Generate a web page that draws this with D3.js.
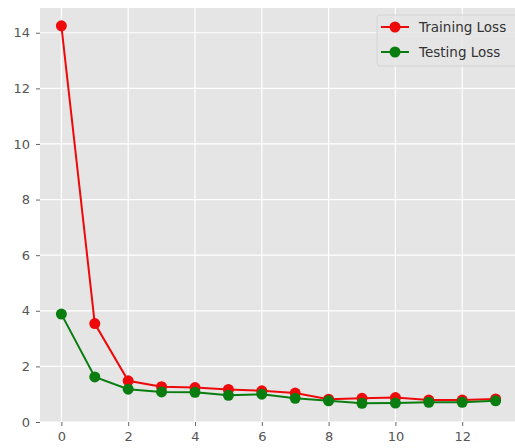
<!DOCTYPE html>
<html><head><meta charset="utf-8">
<script src="https://cdn.jsdelivr.net/npm/d3@7"></script>
<style>html,body{margin:0;padding:0;background:#fff;}svg{display:block;}</style>
</head><body>
<script>
const epochs = [0,1,2,3,4,5,6,7,8,9,10,11,12,13];
const trainingLoss = [14.25,3.54,1.48,1.27,1.24,1.17,1.12,1.04,0.82,0.85,0.88,0.79,0.79,0.83];
const testingLoss  = [3.88,1.62,1.18,1.08,1.07,0.96,1.00,0.85,0.76,0.67,0.68,0.71,0.71,0.76];
const xTicks = [0,2,4,6,8,10,12];
const yTicks = [0,2,4,6,8,10,12,14];
const seriesNames = ["Training Loss","Testing Loss"];
const seriesColors = ["#ee0a0a","#0a7d10"];

(function(){
const W = 515, H = 448;
const svg = d3.select("body").append("svg").attr("width", W).attr("height", H);
const pL = 40, pR = 517, pT = 8, pB = 422;
const x = d3.scaleLinear().domain([-0.64, 13.64]).range([pL, pR]);
const y = d3.scaleLinear().domain([-0.0, 14.89]).range([pB, pT]);

svg.append("rect").attr("x", pL).attr("y", pT).attr("width", pR-pL).attr("height", pB-pT).attr("fill", "#e5e5e5");

// grid
svg.append("g").selectAll("line").data(xTicks).join("line")
  .attr("x1", d=>x(d)).attr("x2", d=>x(d)).attr("y1", pT).attr("y2", pB)
  .attr("stroke", "#fff").attr("stroke-width", 1.2);
svg.append("g").selectAll("line").data(yTicks).join("line")
  .attr("y1", d=>y(d)).attr("y2", d=>y(d)).attr("x1", pL).attr("x2", pR)
  .attr("stroke", "#fff").attr("stroke-width", 1.2);

// axes
const xAxis = svg.append("g").attr("transform", `translate(0,${pB})`)
  .call(d3.axisBottom(x).tickValues(xTicks).tickSize(4).tickPadding(6).tickFormat(d3.format("d")));
const yAxis = svg.append("g").attr("transform", `translate(${pL},0)`)
  .call(d3.axisLeft(y).tickValues(yTicks).tickSize(4).tickPadding(6).tickFormat(d3.format("d")));
[xAxis, yAxis].forEach(g => {
  g.select(".domain").remove();
  g.selectAll(".tick line").attr("stroke", "#666").attr("stroke-width", 1);
  g.selectAll(".tick text").attr("fill", "#555").attr("font-family", "DejaVu Sans, sans-serif").attr("font-size", 13);
});

// series
const allSeries = [trainingLoss, testingLoss];
allSeries.forEach((vals, i) => {
  const pts = epochs.map((e, j) => [e, vals[j]]);
  svg.append("path").datum(pts)
    .attr("d", d3.line().x(d=>x(d[0])).y(d=>y(d[1])))
    .attr("fill", "none").attr("stroke", seriesColors[i]).attr("stroke-width", 2);
  svg.append("g").selectAll("circle").data(pts).join("circle")
    .attr("cx", d=>x(d[0])).attr("cy", d=>y(d[1])).attr("r", 5.5)
    .attr("fill", seriesColors[i]);
});

// legend
const lg = svg.append("g");
lg.append("rect").attr("x", 377).attr("y", 15).attr("width", 145).attr("height", 51).attr("rx", 3)
  .attr("fill", "#e5e5e5").attr("fill-opacity", 0.8).attr("stroke", "#d4d4d4");
seriesNames.forEach((name, i) => {
  const cy = 27 + i * 25;
  lg.append("line").attr("x1", 381).attr("x2", 409).attr("y1", cy).attr("y2", cy)
    .attr("stroke", seriesColors[i]).attr("stroke-width", 2);
  lg.append("circle").attr("cx", 395).attr("cy", cy).attr("r", 5.5).attr("fill", seriesColors[i]);
  lg.append("text").attr("x", 419).attr("y", cy).attr("dy", "0.35em")
    .attr("font-family", "DejaVu Sans, sans-serif").attr("font-size", 13.5).attr("fill", "#333").text(name);
});
})();
</script>
</body></html>
